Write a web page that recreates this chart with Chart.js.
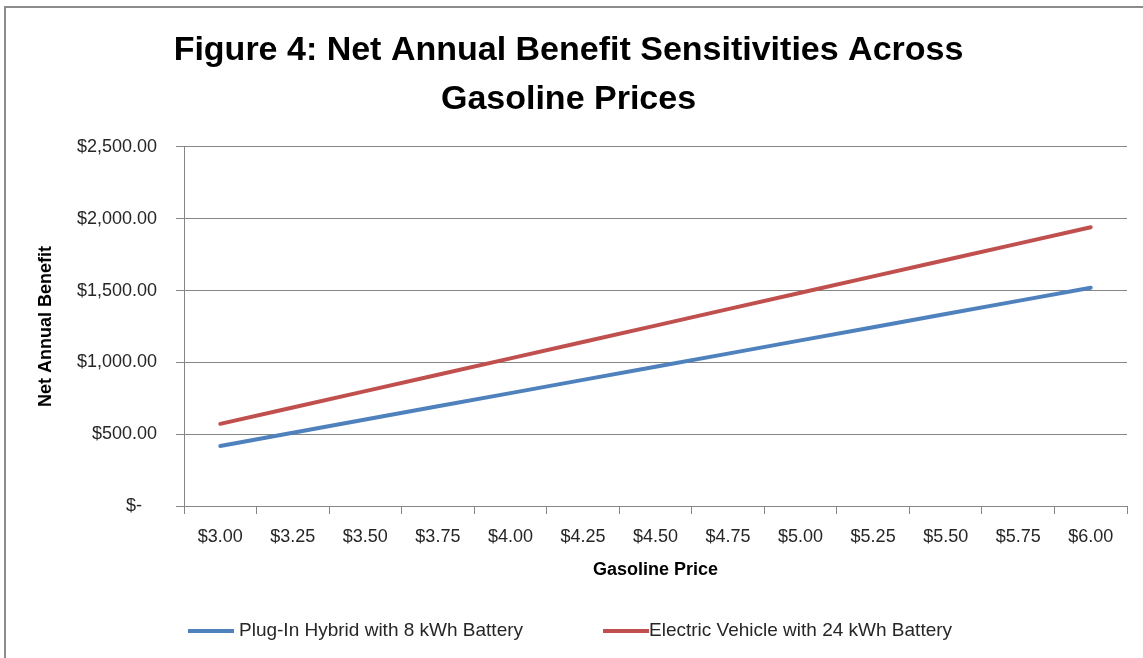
<!DOCTYPE html>
<html>
<head>
<meta charset="utf-8">
<title>Net Annual Benefit Sensitivities Across Gasoline Prices</title>
<script src="https://cdn.jsdelivr.net/npm/chart.js@4.4.1/dist/chart.umd.min.js"></script>
<style>
  html, body { margin: 0; padding: 0; background: #fff; overflow: hidden; }
  #wrap { position: relative; width: 1143px; height: 658px; }
  #frame {
    position: absolute; left: 4px; top: 6px; width: 1200px; height: 700px;
    border-top: 2px solid #8c8c8c; border-left: 2px solid #8c8c8c;
    pointer-events: none;
  }
</style>
</head>
<body>
<div id="wrap">
  <canvas id="benefitChart" width="1143" height="658"></canvas>
  <div id="frame"></div>
</div>
<script>
// --- datos ---
const precios = ["$3.00", "$3.25", "$3.50", "$3.75", "$4.00", "$4.25", "$4.50",
                 "$4.75", "$5.00", "$5.25", "$5.50", "$5.75", "$6.00"];
const hibrido = [418, 510, 602, 694, 786, 878, 969, 1061, 1153, 1245, 1337, 1428, 1520];
const electrico = [572, 686, 800, 914, 1028, 1142, 1256, 1371, 1485, 1599, 1713, 1827, 1941];
const etiquetasY = ["$-   ", "$500.00", "$1,000.00", "$1,500.00", "$2,000.00", "$2,500.00"];

const GRIS = "#868686";
const TEXTO = "#262626";
const fuente = '"Liberation Sans", Arial, sans-serif';

// leyenda dibujada a mano: linea corta + texto, abajo del grafico
const leyendaX = [188, 603];
const leyenda = {
  id: "leyenda",
  afterDraw(chart) {
    const ctx = chart.ctx;
    const y = 631;
    ctx.save();
    ctx.font = "19px " + fuente;
    ctx.textBaseline = "middle";
    ctx.textAlign = "left";
    chart.data.datasets.forEach((ds, i) => {
      const x = leyendaX[i];
      ctx.strokeStyle = ds.borderColor;
      ctx.lineWidth = 4;
      ctx.beginPath();
      ctx.moveTo(x, y);
      ctx.lineTo(x + 46, y);
      ctx.stroke();
      ctx.fillStyle = TEXTO;
      ctx.fillText(ds.label, x + (i === 0 ? 51 : 46), y);
    });
    ctx.restore();
  }
};

new Chart(document.getElementById("benefitChart"), {
  type: "line",
  data: {
    labels: precios,
    datasets: [{
      label: "Plug-In Hybrid with 8 kWh Battery",
      data: hibrido,
      borderColor: "#4F81BD",
      backgroundColor: "#4F81BD",
      borderWidth: 4,
      borderCapStyle: "round",
      pointRadius: 0,
      tension: 0
    }, {
      label: "Electric Vehicle with 24 kWh Battery",
      data: electrico,
      borderColor: "#C0504D",
      backgroundColor: "#C0504D",
      borderWidth: 4,
      borderCapStyle: "round",
      pointRadius: 0,
      tension: 0
    }]
  },
  options: {
    responsive: false,
    animation: false,
    layout: { padding: { top: 0, left: 10, right: 16, bottom: 47 } },
    plugins: {
      legend: { display: false },
      tooltip: { enabled: false },
      title: {
        display: true,
        text: ["Figure 4: Net Annual Benefit Sensitivities Across", "Gasoline Prices"],
        color: "#000",
        font: { family: fuente, size: 34, weight: "bold", lineHeight: 1.44 },
        padding: { top: 26, bottom: 23 }
      }
    },
    scales: {
      x: {
        offset: true,
        afterFit(scale) { scale.height = 105; },
        grid: { offset: true, drawOnChartArea: false, drawTicks: true, tickLength: 8, color: GRIS },
        border: { color: GRIS, width: 1 },
        ticks: { color: TEXTO, font: { family: fuente, size: 18 }, padding: 12, maxRotation: 0, autoSkip: false },
        title: {
          display: true,
          text: "Gasoline Price",
          color: "#000",
          font: { family: fuente, size: 18, weight: "bold" },
          padding: { top: 0, bottom: 30 }
        }
      },
      y: {
        min: 0,
        max: 2500,
        afterFit(scale) { scale.width = 174; },
        grid: { color: GRIS, tickLength: 8 },
        border: { color: GRIS, width: 1 },
        ticks: {
          stepSize: 500,
          color: TEXTO,
          font: { family: fuente, size: 18 },
          padding: 19,
          callback: (v) => etiquetasY[v / 500]
        },
        title: {
          display: true,
          text: "Net Annual Benefit",
          color: "#000",
          font: { family: fuente, size: 18, weight: "bold" },
          padding: { top: 25, bottom: 0 }
        }
      }
    }
  },
  plugins: [leyenda]
});
</script>
</body>
</html>
